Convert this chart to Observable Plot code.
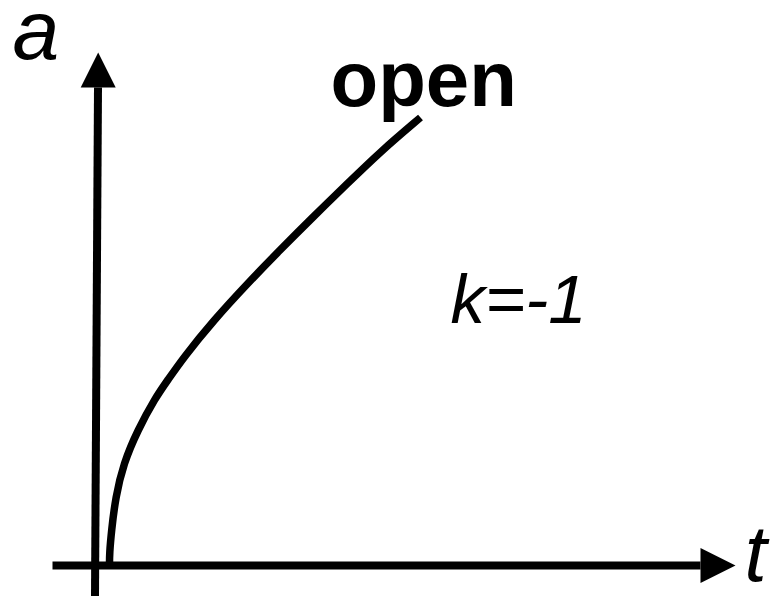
<!DOCTYPE html>
<html>
<head>
<meta charset="utf-8">
<script src="https://cdn.jsdelivr.net/npm/d3@7"></script>
<script src="https://cdn.jsdelivr.net/npm/@observablehq/plot@0.6"></script>
<style>
  html, body { margin: 0; padding: 0; background: #fff; }
  #chart svg { display: block; }
</style>
</head>
<body>
<div id="chart"></div>
<script>
// Scale factor a(t) for an open universe (k = -1)
const curveT = [0.13, 0.13, 0.15, 0.19, 0.27, 0.41, 0.59, 0.71, 0.87, 1.17, 1.51, 1.84, 2.17, 2.51, 2.84, 3.24];
const curveA = [0.00, 0.12, 0.35, 0.68, 1.02, 1.35, 1.68, 1.85, 2.08, 2.45, 2.82, 3.16, 3.49, 3.82, 4.14, 4.48];

// Axis lines (data coordinates) and arrow tips
const yAxisT = [-0.015, 0.015];
const yAxisA = [-0.31, 4.78];
const xAxisT = [-0.44, 6.04];
const xAxisA = [0, 0];
const tipT = [0.017, 6.39];
const tipA = [5.13, 0];
const tipRotate = [0, 90];

// Labels
const labelText = ["a", "t", "k=-1"];
const labelT = [-0.84, 6.48, 3.54];
const labelA = [5.07, -0.15, 2.43];
const labelSize = [84, 80, 69];
const curveLabel = "open";

const curve = curveT.map((t, i) => ({t, a: curveA[i]}));
const yAxis = yAxisT.map((t, i) => ({t, a: yAxisA[i]}));
const xAxis = xAxisT.map((t, i) => ({t, a: xAxisA[i]}));
const tips = tipT.map((t, i) => ({t, a: tipA[i], r: tipRotate[i]}));
const labels = labelText.map((s, i) => ({s, t: labelT[i], a: labelA[i], size: labelSize[i]}));

const arrowHead = {
  draw(ctx) {
    ctx.moveTo(0, 0);
    ctx.lineTo(17.5, 35);
    ctx.lineTo(-17.5, 35);
    ctx.closePath();
  }
};

const font = "'Liberation Sans', Arial, Helvetica, sans-serif";

const chart = Plot.plot({
  width: 776,
  height: 596,
  margin: 0,
  x: {domain: [-0.96, 6.80], axis: null},
  y: {domain: [-0.31, 5.65], axis: null},
  style: {background: "#fff", fontFamily: font},
  marks: [
    Plot.line(yAxis, {x: "t", y: "a", stroke: "#000", strokeWidth: 8, strokeLinecap: "butt"}),
    Plot.line(xAxis, {x: "t", y: "a", stroke: "#000", strokeWidth: 8, strokeLinecap: "butt"}),
    Plot.dot(tips, {x: "t", y: "a", rotate: "r", symbol: arrowHead, fill: "#000", stroke: null}),
    Plot.line(curve, {x: "t", y: "a", curve: "basis", stroke: "#000", strokeWidth: 7.5, strokeLinecap: "butt"}),
    ...labels.map(d => Plot.text([d], {
      x: "t", y: "a", text: "s", fontSize: d.size, fontStyle: "italic",
      textAnchor: "start", lineAnchor: "bottom", fill: "#000", fontFamily: font
    })),
    Plot.text([curveLabel], {
      x: [2.34], y: [4.60], text: d => d, fontSize: 78, fontWeight: "bold",
      textAnchor: "start", lineAnchor: "bottom", fill: "#000", fontFamily: font
    })
  ]
});

document.getElementById("chart").appendChild(chart);
</script>
</body>
</html>
